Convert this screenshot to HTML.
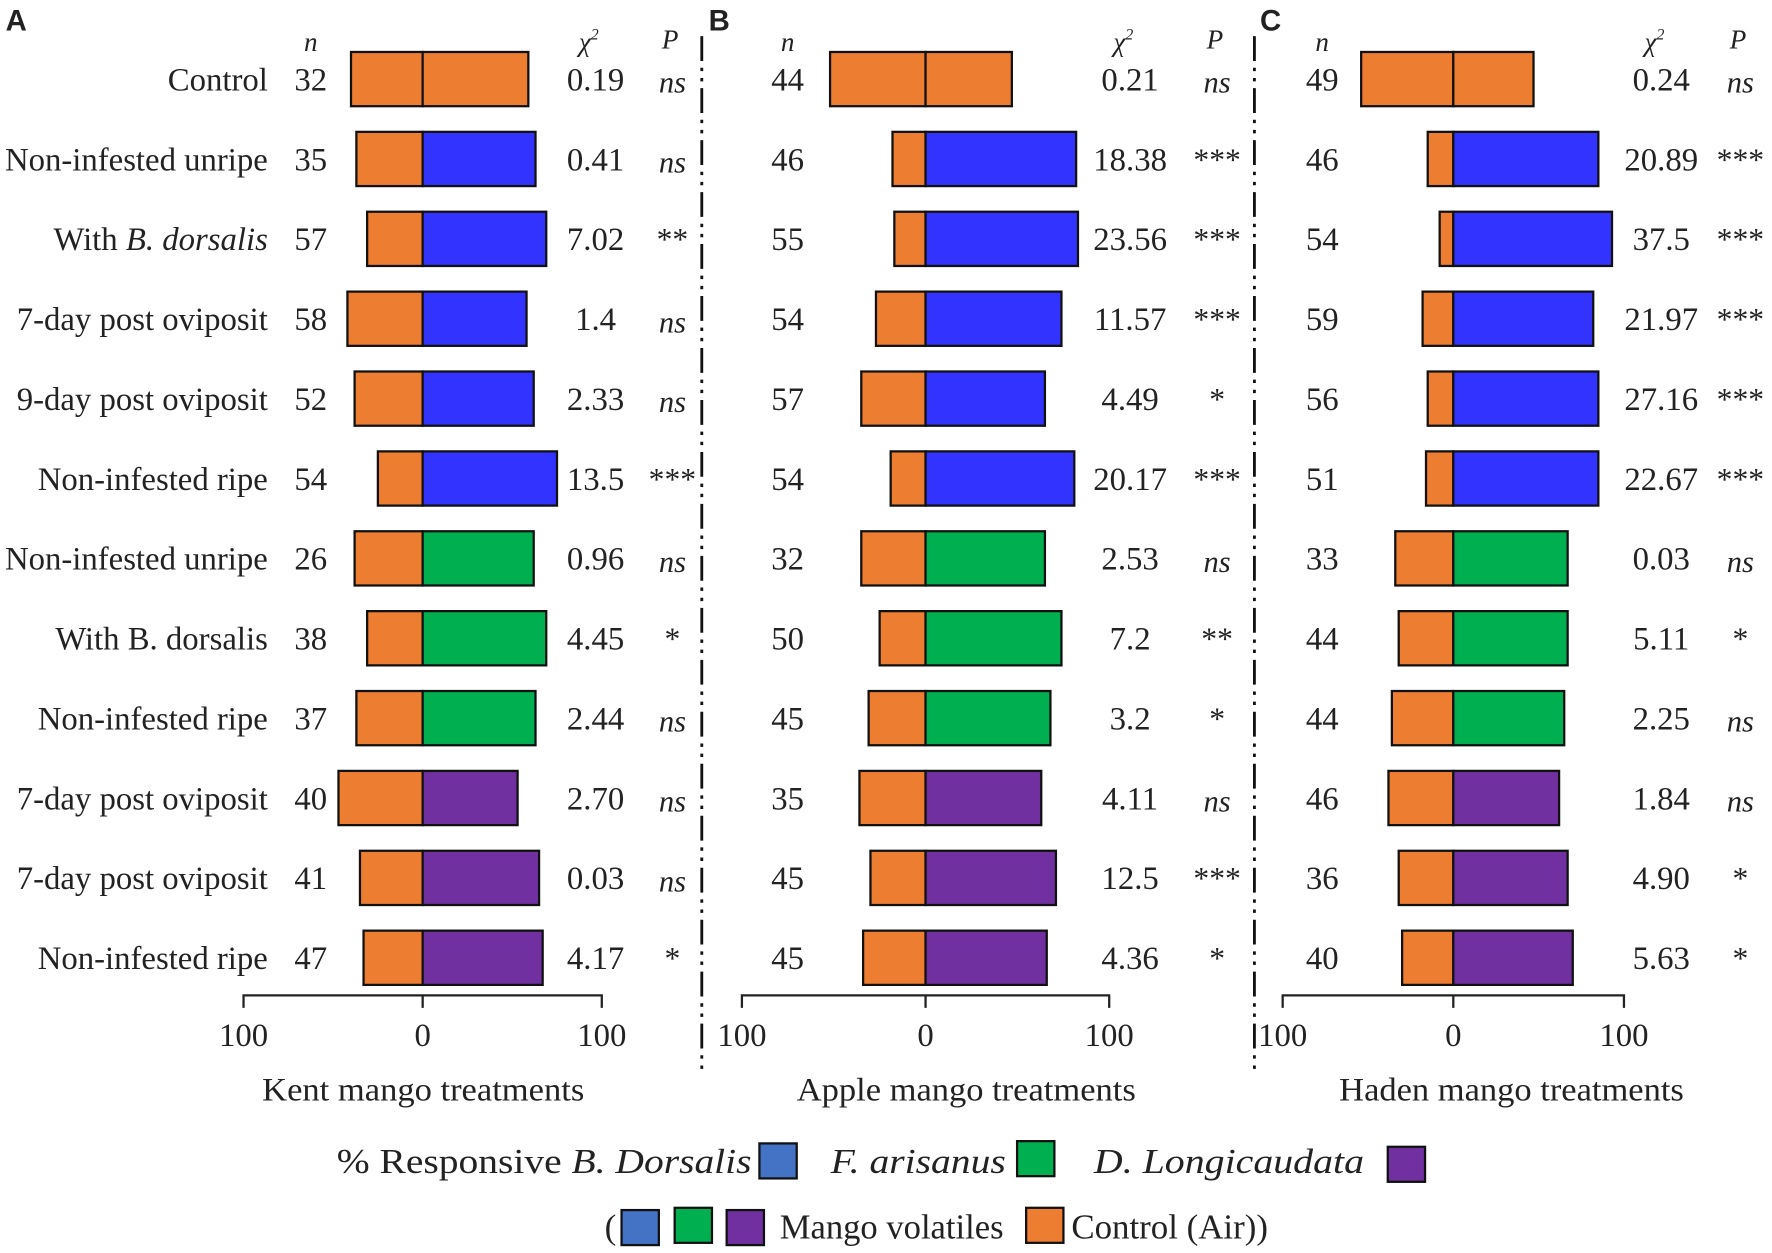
<!DOCTYPE html>
<html><head><meta charset="utf-8"><style>
html,body{margin:0;padding:0;background:#fff;}
svg{display:block;}
text{font-family:"Liberation Serif",serif;fill:#222;}
</style></head><body>
<svg id="chart" width="1772" height="1253" viewBox="0 0 1568 1109" preserveAspectRatio="none" xmlns="http://www.w3.org/2000/svg"></svg>
<script>
const rowLabels = ["Control","Non-infested unripe","With B. dorsalis","7-day post oviposit","9-day post oviposit","Non-infested ripe","Non-infested unripe","With B. dorsalis","Non-infested ripe","7-day post oviposit","7-day post oviposit","Non-infested ripe"];
const rowSeries = ["control","bd","bd","bd","bd","bd","fa","fa","fa","dl","dl","dl"];
const nA = [32,35,57,58,52,54,26,38,37,40,41,47];
const leftA = [40,37,31,42,38,25,38,31,37,47,35,33];
const rightA = [59,63,69,58,62,75,62,69,63,53,65,67];
const chiA = ["0.19","0.41","7.02","1.4","2.33","13.5","0.96","4.45","2.44","2.70","0.03","4.17"];
const pA = ["ns","ns","**","ns","ns","***","ns","*","ns","ns","ns","*"];
const nB = [44,46,55,54,57,54,32,50,45,35,45,45];
const leftB = [52,18,17,27,35,19,35,25,31,36,30,34];
const rightB = [47,82,83,74,65,81,65,74,68,63,71,66];
const chiB = ["0.21","18.38","23.56","11.57","4.49","20.17","2.53","7.2","3.2","4.11","12.5","4.36"];
const pB = ["ns","***","***","***","*","***","ns","**","*","ns","***","*"];
const nC = [49,46,54,59,56,51,33,44,44,46,36,40];
const leftC = [54,15,8,18,15,16,34,32,36,38,32,30];
const rightC = [47,85,93,82,85,85,67,67,65,62,67,70];
const chiC = ["0.24","20.89","37.5","21.97","27.16","22.67","0.03","5.11","2.25","1.84","4.90","5.63"];
const pC = ["ns","***","***","***","***","***","ns","*","ns","ns","*","*"];
const axisTicks = ["100","0","100"];

const NS="http://www.w3.org/2000/svg";
const svg=document.getElementById('chart');
const COL={control:"#ED7D31",bd:"#3333FF",fa:"#00B050",dl:"#7030A0"};
function el(tag,attrs,parent){const e=document.createElementNS(NS,tag);for(const k in attrs)e.setAttribute(k,attrs[k]);(parent||svg).appendChild(e);return e;}
function txt(x,y,s,size,anchor,italic,parent){const t=el('text',{x:x,y:y,'font-size':size,'text-anchor':anchor||'start'},parent);if(italic)t.setAttribute('font-style','italic');t.textContent=s;return t;}
const rowY=i=>70+i*70.7;
const barH=48;

const panels=[
 {id:"a",letter:"A",lx:5,zero:374,scale:1.585,n:nA,left:leftA,right:rightA,chi:chiA,p:pA,nx:275,chix:527,px:595,title:"Kent mango treatments",tx:232,tw:285,labels:true},
 {id:"b",letter:"B",lx:627,zero:819,scale:1.625,n:nB,left:leftB,right:rightB,chi:chiB,p:pB,nx:697,chix:1000,px:1077,title:"Apple mango treatments",tx:705,tw:300,labels:false},
 {id:"c",letter:"C",lx:1115,zero:1286,scale:1.51,n:nC,left:leftC,right:rightC,chi:chiC,p:pC,nx:1170,chix:1470,px:1540,title:"Haden mango treatments",tx:1185,tw:305,labels:false}
];
panels.forEach(P=>{
  const g=el('g',{});
  
  
  const xs=v=>P.zero+v*P.scale;
  const L=el('text',{x:P.lx,y:27,'font-size':26,'font-weight':'bold',style:'font-family:"Liberation Sans",sans-serif'},g);
  L.textContent=P.letter;
  
  
  const hn=txt(P.nx,45,"n",24,'middle',true,g);
  
  
  const hc=el('text',{x:P.chix-6,y:45,'font-size':24,'text-anchor':'middle','font-style':'italic'},g);
  hc.innerHTML='χ<tspan font-size="14" dy="-10">2</tspan>';
  
  
  const hp=txt(P.px-2,43,"P",24,'middle',true,g);
  
  
  for(let i=0;i<rowLabels.length;i++){
    const y=rowY(i);
    if(P.labels){
      const t=el('text',{x:237,y:y+10,'font-size':29,'text-anchor':'end'},g);
      if(i===2){t.innerHTML='With <tspan font-style="italic">B. dorsalis</tspan>';}else t.textContent=rowLabels[i];
      
      
    }
    const nt=txt(P.nx,y+10,String(P.n[i]),29,'middle',false,g);
    
    
    const l=el('rect',{x:xs(-P.left[i]),y:y-barH/2,width:P.left[i]*P.scale,height:barH,fill:COL.control,stroke:'#111','stroke-width':2},g);
    
    
    const r=el('rect',{x:xs(0),y:y-barH/2,width:P.right[i]*P.scale,height:barH,fill:COL[rowSeries[i]],stroke:'#111','stroke-width':2},g);
    
    
    const ct=txt(P.chix,y+10,P.chi[i],29,'middle',false,g);
    
    
    const isStar=P.p[i]!=="ns";
    const pt=txt(P.px,y+(isStar?10:12),P.p[i],isStar?28:27,'middle',!isStar,g);
    
    
  }
  const ax=el('path',{d:`M${xs(-100)} 892 V881 H${xs(100)} V892 M${xs(0)} 881 V892`,stroke:'#222','stroke-width':2,fill:'none'},g);
  
  
  [-100,0,100].forEach((v,k)=>{
    const t=txt(xs(v),926,axisTicks[k],29,'middle',false,g);
    
    
  });
  const at=el('text',{x:P.tx,y:974,'font-size':29,textLength:P.tw,lengthAdjust:'spacingAndGlyphs'},g);
  at.textContent=P.title;
  
  
});
[621,1110].forEach(x=>{
  const d=el('line',{x1:x,y1:32,x2:x,y2:950,stroke:'#111','stroke-width':2.5,'stroke-dasharray':'22 6 3 6 3 6'});
  
  
});
// legend
const lg=el('g',{});


const l1=el('text',{x:298,y:1038,'font-size':31,textLength:367,lengthAdjust:'spacingAndGlyphs'},lg);
l1.innerHTML='% Responsive <tspan font-style="italic">B. Dorsalis</tspan>';
function box(x,y,c,name){const b=el('rect',{x:x,y:y,width:33,height:31,fill:c,stroke:'#111','stroke-width':2},lg);}
function ltxt(x,y,s,w,it){const t=el('text',{x:x,y:y,'font-size':31,textLength:w,lengthAdjust:'spacingAndGlyphs'},lg);if(it)t.setAttribute('font-style','italic');t.textContent=s;return t;}
box(672,1012,"#4472C4",'legend-swatch-b-dorsalis');
ltxt(735,1038,"F. arisanus",155,true);
box(900,1010,"#00B050",'legend-swatch-f-arisanus');
ltxt(968,1038,"D. Longicaudata",239,true);
box(1228,1015,"#7030A0",'legend-swatch-d-longicaudata');
txt(535,1096,"(",31,'start',false,lg);
box(550,1071,"#4472C4",'legend-swatch-volatiles-blue');
box(597,1069,"#00B050",'legend-swatch-volatiles-green');
box(643,1071,"#7030A0",'legend-swatch-volatiles-purple');
ltxt(690,1096,"Mango volatiles",198,false);
box(908,1069,"#ED7D31",'legend-swatch-control-air');
ltxt(948,1096,"Control (Air))",174,false);
</script>
</body></html>
